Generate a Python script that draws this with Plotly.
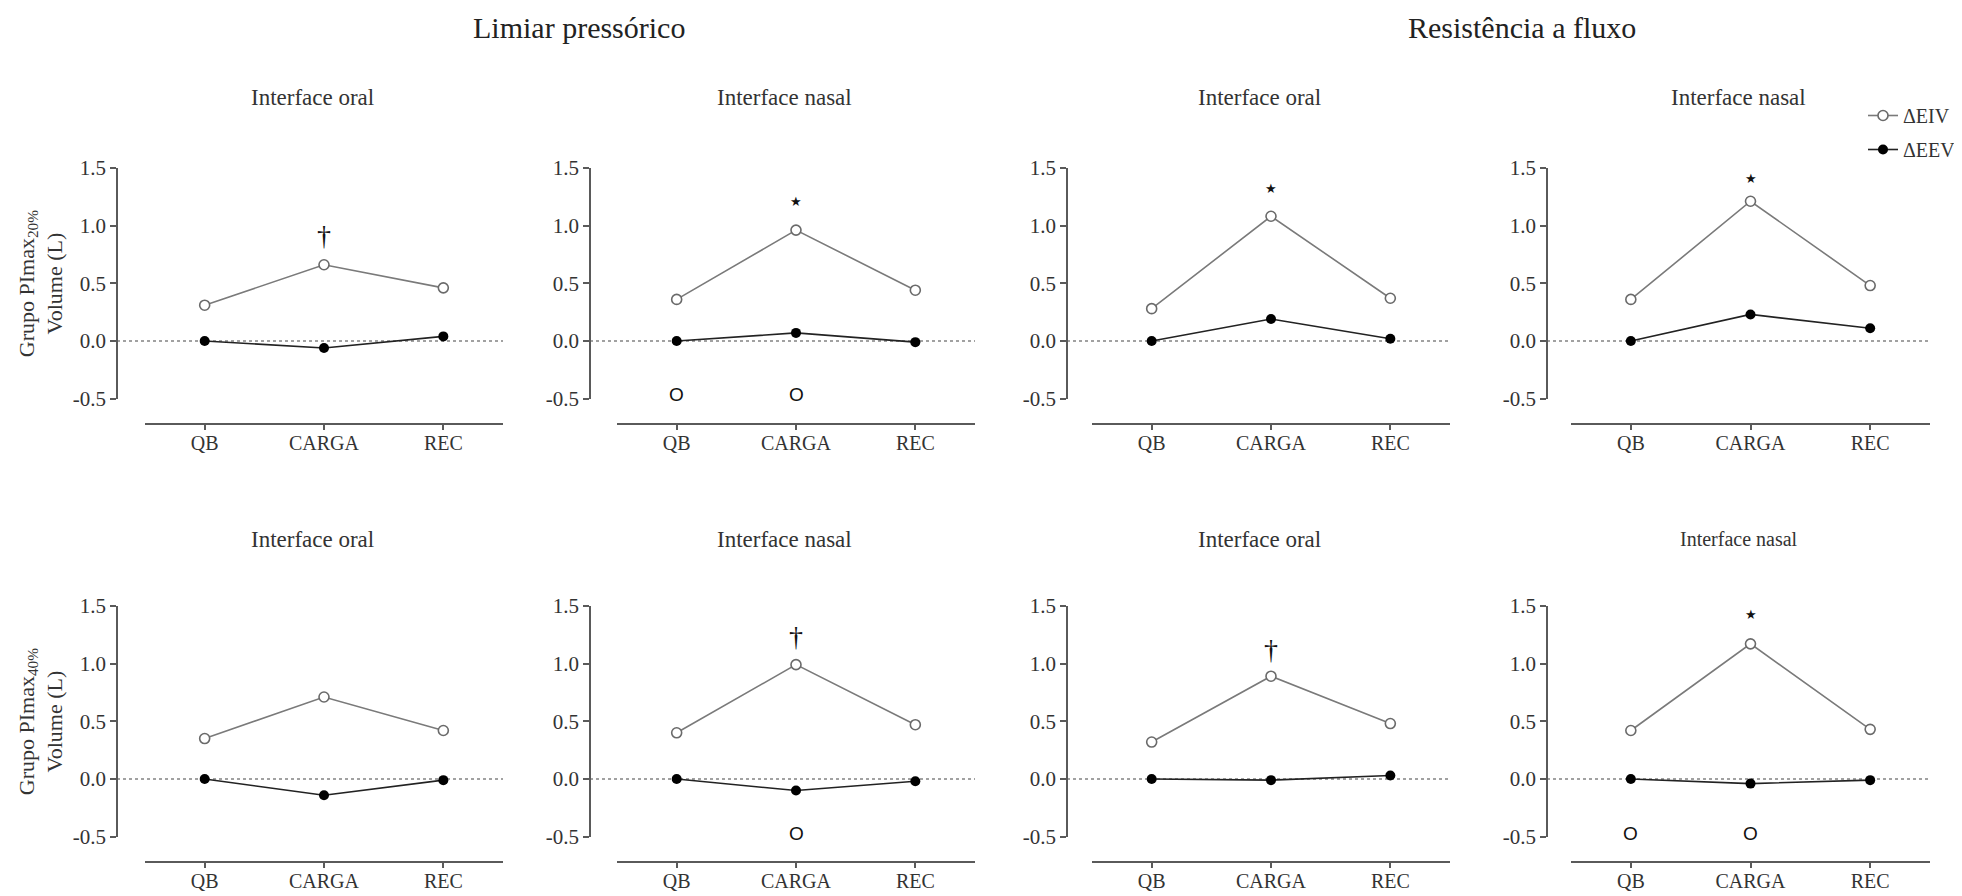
import plotly.graph_objects as go

W, H = 1962, 896          # browser window
PAD = 8                   # default body margin of the html page
FW, FH = W - PAD, H - PAD


def px(xp):
    return (xp - PAD) / FW


def py(yp):
    return 1 - (yp - PAD) / FH


categories = ["QB", "CARGA", "REC"]
series_names = ["ΔEIV", "ΔEEV"]

group_titles = ["Limiar pressórico", "Resistência a fluxo"]
panel_titles = ["Interface oral", "Interface nasal", "Interface oral", "Interface nasal",
                "Interface oral", "Interface nasal", "Interface oral", "Interface nasal"]
row_labels = ["Grupo PImax<sub>20%</sub><br>Volume (L)", "Grupo PImax<sub>40%</sub><br>Volume (L)"]

# Row 1 (PImax 20%)
eiv_lp20_oral = [0.31, 0.66, 0.46]
eev_lp20_oral = [0.00, -0.06, 0.04]
eiv_lp20_nasal = [0.36, 0.96, 0.44]
eev_lp20_nasal = [0.00, 0.07, -0.01]
eiv_rf20_oral = [0.28, 1.08, 0.37]
eev_rf20_oral = [0.00, 0.19, 0.02]
eiv_rf20_nasal = [0.36, 1.21, 0.48]
eev_rf20_nasal = [0.00, 0.23, 0.11]
# Row 2 (PImax 40%)
eiv_lp40_oral = [0.35, 0.71, 0.42]
eev_lp40_oral = [0.00, -0.14, -0.01]
eiv_lp40_nasal = [0.40, 0.99, 0.47]
eev_lp40_nasal = [0.00, -0.10, -0.02]
eiv_rf40_oral = [0.32, 0.89, 0.48]
eev_rf40_oral = [0.00, -0.01, 0.03]
eiv_rf40_nasal = [0.42, 1.17, 0.43]
eev_rf40_nasal = [0.00, -0.04, -0.01]

eiv_panels = [eiv_lp20_oral, eiv_lp20_nasal, eiv_rf20_oral, eiv_rf20_nasal,
              eiv_lp40_oral, eiv_lp40_nasal, eiv_rf40_oral, eiv_rf40_nasal]
eev_panels = [eev_lp20_oral, eev_lp20_nasal, eev_rf20_oral, eev_rf20_nasal,
              eev_lp40_oral, eev_lp40_nasal, eev_rf40_oral, eev_rf40_nasal]

# significance marks: (panel index, category index, y value, symbol)
sig_marks = [
    (0, 1, 0.91, "†"),
    (1, 1, 1.21, "★"),
    (2, 1, 1.32, "★"),
    (3, 1, 1.41, "★"),
    (5, 1, 1.23, "†"),
    (6, 1, 1.12, "†"),
    (7, 1, 1.42, "★"),
    (1, 0, -0.46, "O"),
    (1, 1, -0.46, "O"),
    (5, 1, -0.475, "O"),
    (7, 0, -0.47, "O"),
    (7, 1, -0.47, "O"),
]

y_tickvals = [-0.5, 0.0, 0.5, 1.0, 1.5]
y_ticktext = ["-0.5", "0.0", "0.5", "1.0", "1.5"]

# ---- layout geometry (page pixels) ----
col_yaxis_x = [117, 590, 1067, 1547]
col_xline = [(145, 503), (617, 975), (1092, 1450), (1571, 1930)]
row_zero_y = [341, 779]
px_per_unit = 115.5
row_xline_y = [424, 862]
title_dx = -12

serif = "Liberation Serif"
axis_col = "#5a5a5a"
text_col = "#333333"

fig = go.Figure()
annotations = []
shapes = []

for p in range(8):
    r, c = divmod(p, 4)
    n = p + 1
    xs = "" if n == 1 else str(n)
    xa, ya = "xaxis" + xs, "yaxis" + xs
    xr, yr = "x" + xs, "y" + xs
    x0, x1 = col_xline[c]
    y_top = row_zero_y[r] - 1.5 * px_per_unit
    y_bot = row_zero_y[r] + 0.5 * px_per_unit

    fig.add_trace(go.Scatter(
        x=list(range(3)), y=eiv_panels[p], xaxis=xr, yaxis=yr, mode="lines+markers",
        name=series_names[0], legendgroup="eiv", showlegend=(p == 0),
        line=dict(color="#7a7a7a", width=1.6),
        marker=dict(symbol="circle", size=10, color="white", line=dict(color="#6a6a6a", width=1.6)),
        cliponaxis=False))
    fig.add_trace(go.Scatter(
        x=list(range(3)), y=eev_panels[p], xaxis=xr, yaxis=yr, mode="lines+markers",
        name=series_names[1], legendgroup="eev", showlegend=(p == 0),
        line=dict(color="#222222", width=1.6),
        marker=dict(symbol="circle", size=10, color="black"),
        cliponaxis=False))

    fig.layout[xa] = dict(
        domain=[px(x0), px(x1)], range=[-0.5, 2.5], anchor="free",
        position=py(row_xline_y[r]), showline=True, linecolor=axis_col, linewidth=2,
        ticks="outside", ticklen=5, tickwidth=1.5, tickcolor=axis_col,
        ticklabelstandoff=-4,
        tickvals=[0, 1, 2], ticktext=categories, showgrid=False, zeroline=False,
        tickfont=dict(family=serif, size=20, color=text_col), fixedrange=True)
    fig.layout[ya] = dict(
        domain=[py(y_bot), py(y_top)], range=[-0.5, 1.5], anchor="free",
        position=px(col_yaxis_x[c]), showline=True, linecolor=axis_col, linewidth=1.5,
        ticks="outside", ticklen=6, tickwidth=1.5, tickcolor=axis_col,
        tickvals=y_tickvals, ticktext=y_ticktext, showgrid=False, zeroline=False,
        tickfont=dict(family=serif, size=21, color=text_col), fixedrange=True)

    # dotted zero reference line
    shapes.append(dict(type="line", xref=xr + " domain", yref=yr,
                       x0=(col_yaxis_x[c] - x0) / (x1 - x0), x1=1, y0=0, y1=0,
                       line=dict(color="#444444", width=1.2, dash="dot"), layer="below"))

    # panel title
    cx = (x0 + x1) / 2 + title_dx
    ty = 98 if r == 0 else 539
    fsize = 23 if p != 7 else 20
    annotations.append(dict(text=panel_titles[p], x=px(cx), y=py(ty), xref="paper", yref="paper",
                            showarrow=False, xanchor="center", yanchor="middle",
                            font=dict(family=serif, size=fsize, color=text_col)))

for (p, ci, yv, sym) in sig_marks:
    n = p + 1
    xs = "" if n == 1 else str(n)
    if sym == "†":
        f = dict(family=serif, size=28, color="#111111")
    elif sym == "★":
        f = dict(family="DejaVu Sans", size=13, color="#111111")
    else:
        f = dict(family="Liberation Sans", size=19, color="#111111")
    annotations.append(dict(text=sym, x=ci, y=yv, xref="x" + xs, yref="y" + xs, showarrow=False,
                            xanchor="center", yanchor="middle", font=f))

# group titles
annotations.append(dict(text=group_titles[0], x=px(579), y=py(28), xref="paper", yref="paper",
                        showarrow=False, xanchor="center", yanchor="middle",
                        font=dict(family=serif, size=30, color="#222222")))
annotations.append(dict(text=group_titles[1], x=px(1522), y=py(28), xref="paper", yref="paper",
                        showarrow=False, xanchor="center", yanchor="middle",
                        font=dict(family=serif, size=30, color="#222222")))

# row labels
for r in range(2):
    annotations.append(dict(text=row_labels[r], x=px(41), y=py(row_zero_y[r] - 0.5 * px_per_unit),
                            xref="paper", yref="paper", showarrow=False, textangle=-90,
                            xanchor="center", yanchor="middle",
                            font=dict(family=serif, size=22, color=text_col)))

fig.update_layout(
    width=FW, height=FH, template="none",
    margin=dict(l=0, r=0, t=0, b=0),
    paper_bgcolor="white", plot_bgcolor="rgba(0,0,0,0)",
    showlegend=True,
    legend=dict(x=px(1863), y=py(96), xanchor="left", yanchor="top",
                font=dict(family=serif, size=20, color=text_col),
                itemwidth=30, tracegroupgap=5, bgcolor="rgba(0,0,0,0)"),
    annotations=annotations, shapes=shapes,
)

fig.write_html("out.html")
